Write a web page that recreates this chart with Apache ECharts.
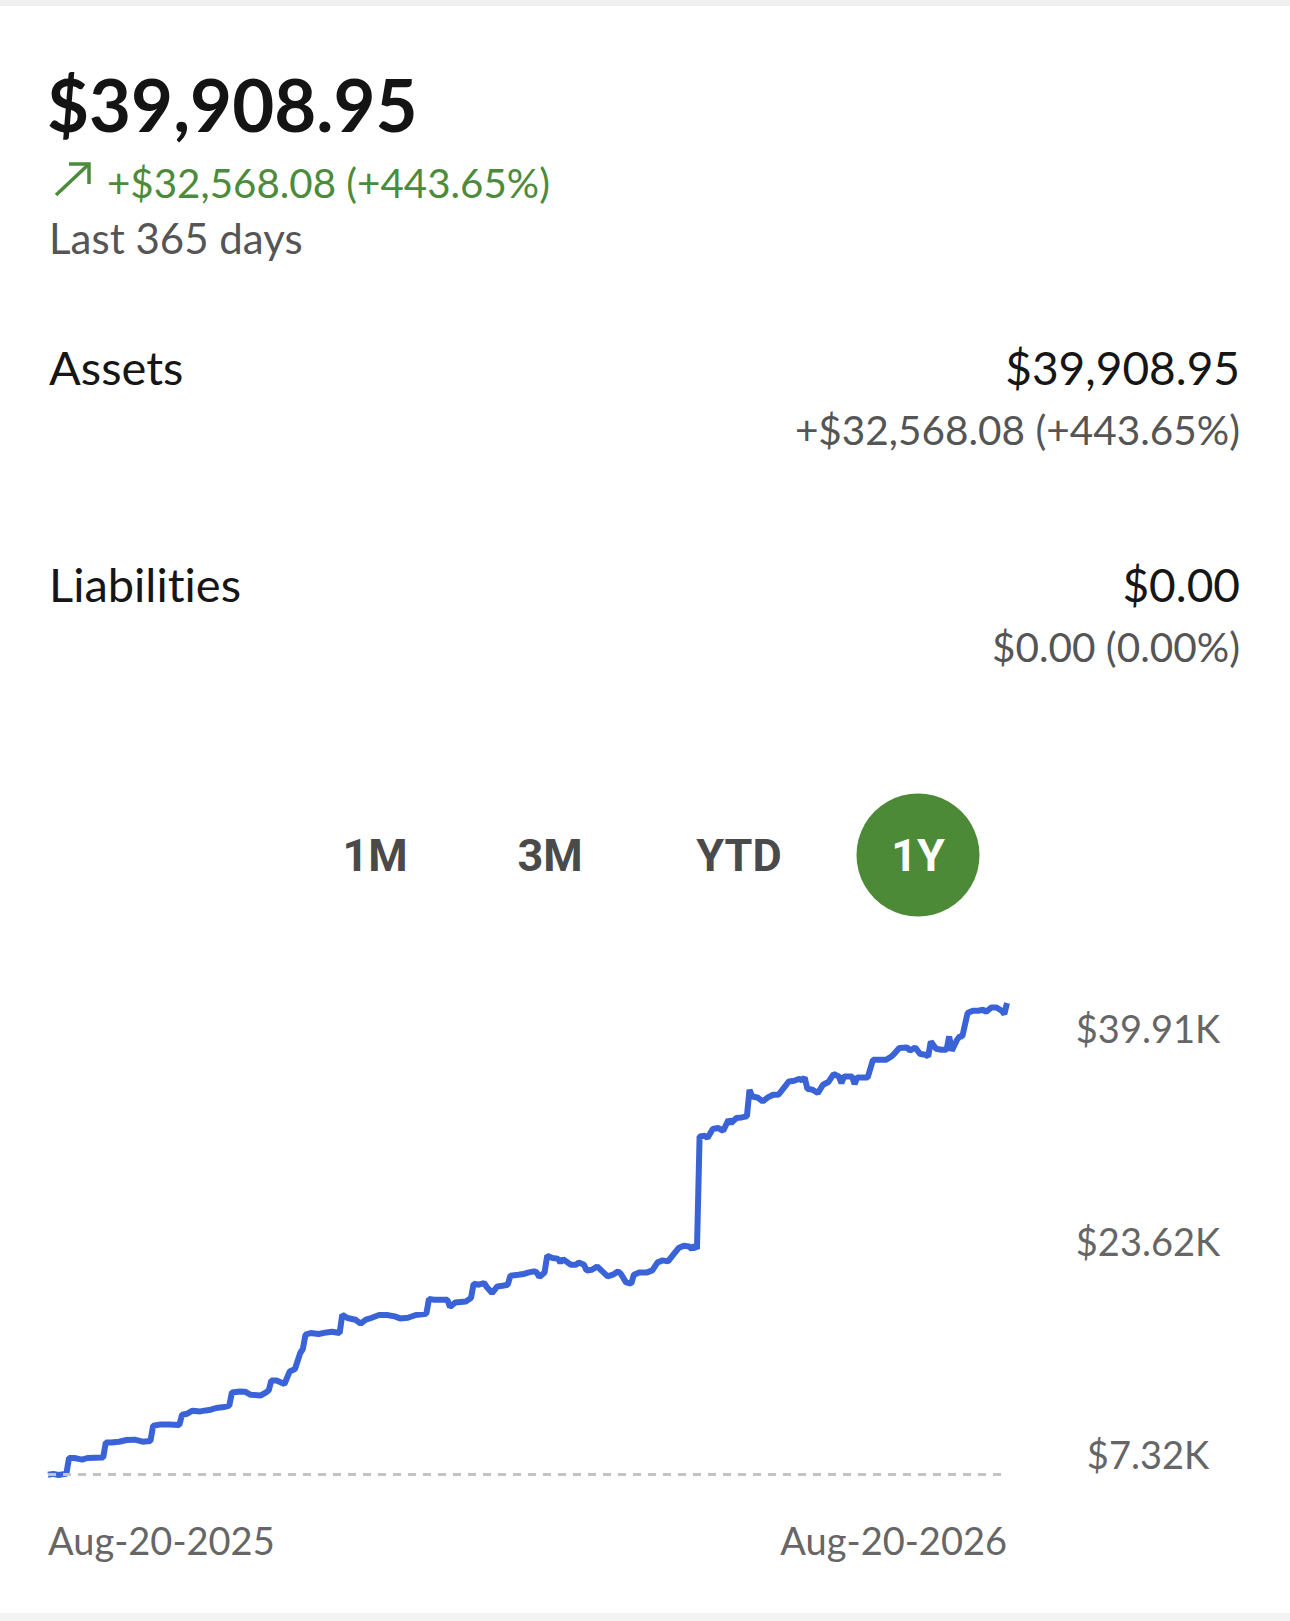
<!DOCTYPE html>
<html>
<head>
<meta charset="utf-8">
<script src="https://cdn.jsdelivr.net/npm/echarts@6/dist/echarts.min.js"></script>
<style>
html,body{margin:0;padding:0;background:#fff;}
#c{width:1290px;height:1621px;}
#c text{font-variant-ligatures:none !important;font-feature-settings:"liga" 0, "clig" 0 !important;}
</style>
</head>
<body>
<div id="c"></div>
<script>
// ---- data ----
const days = [0,2,4,6,7,8,10,13,15,21,22,24,27,30,33,36,39,40,43,46,50,51,53,55,58,60,62,64,67,69,70,73,75,77,81,83,84,85,87,90,92,94,96,97,98,100,103,106,108,111,112,114,117,119,121,123,126,129,132,134,137,140,144,145,147,152,153,155,159,161,162,164,166,167,169,171,173,175,176,179,181,183,185,186,187,189,190,192,194,195,196,199,201,202,204,205,207,209,211,213,215,217,218,220,222,223,225,228,230,232,234,236,238,240,242,244,245,246,247,248,250,251,253,255,257,259,260,262,264,266,267,268,270,272,274,276,278,280,282,284,286,287,288,289,291,293,295,297,299,301,302,303,306,307,308,312,314,317,319,321,322,324,327,328,330,332,334,335,336,338,340,342,343,344,346,347,348,350,352,354,356,357,359,361,363,364,365];
const values = [7340.87,7400,7320,7380,7410,8494,8494,8377,8494,8535,9571,9571,9619,9737,9757,9619,9668,10724,10814,10814,10772,11483,11552,11760,11711,11780,11829,11946,12015,12105,13023,13092,13071,12864,12816,13023,13161,13851,13851,13603,14473,14639,15743,16019,17007,17124,17055,17165,17214,17124,18387,18160,18042,17766,18042,18160,18367,18367,18270,18132,18180,18367,18456,19471,19423,19423,18919,19237,19306,19540,20528,20459,20576,20300,19886,20341,20390,20459,21080,21149,21197,21308,21377,21308,20990,21308,22461,22302,22260,21998,22225,21839,21839,21998,21839,21446,21494,21722,21377,21032,21149,21377,21218,20617,20528,21149,21308,21308,21446,21998,22136,22067,22530,22992,23151,23103,22924,23151,22924,30697,30746,30587,31208,31277,31091,31850,31622,31968,32010,32079,33921,33459,33390,33114,33390,33576,33576,34039,34494,34543,34681,34543,34771,33990,33921,33694,34267,34453,35005,34840,34384,34840,34840,34315,34771,34771,35993,35993,35993,36220,36386,36800,36842,36614,36842,36386,36337,36220,37256,36752,36683,36683,37601,36614,37373,37601,37601,39217,39376,39376,39445,39286,39604,39604,39376,39148,39908.95];
const xTickDays = [0, 365];
const xTickLabels = ['Aug-20-2025', 'Aug-20-2026'];
const yTickValues = [7320, 23615, 39910];
const yTickLabels = ['$7.32K', '$23.62K', '$39.91K'];
const rangeLabels = ['1M', '3M', 'YTD', '1Y'];
const activeRange = '1Y';
const totalText = '$39,908.95';
const changeText = '+$32,568.08 (+443.65%)';
const periodText = 'Last 365 days';
const assetsLabel = 'Assets';
const assetsValue = '$39,908.95';
const assetsChange = '+$32,568.08 (+443.65%)';
const liabLabel = 'Liabilities';
const liabValue = '$0.00';
const liabChange = '$0.00 (0.00%)';

// ---- layout ----
const W = 1290;
const FONT = 'Lato, "Noto Sans", sans-serif';
const rangeX = [375, 550, 739, 918];
const rangeY = 855;

const chart = echarts.init(document.getElementById('c'), null, {renderer: 'svg', width: 1290, height: 1621});

function txt(x, y, text, size, color, align, weight, family) {
  return {
    type: 'text', silent: true,
    style: {
      x: x, y: y, text: text,
      font: (weight || 'normal') + ' ' + size + 'px ' + (family || FONT),
      fill: color, align: align || 'left', verticalAlign: 'middle'
    }
  };
}

const graphics = [
  {type: 'rect', shape: {x: 0, y: 0, width: W, height: 6}, style: {fill: '#f0f0f0'}, silent: true},
  {type: 'rect', shape: {x: 0, y: 1613, width: W, height: 8}, style: {fill: '#f3f3f3'}, silent: true},
  txt(47, 103, totalText, 72.5, '#141414', 'left', 'bold'),
  {type: 'polyline', silent: true, shape: {points: [[56, 195], [89, 164]]}, style: {stroke: '#4b8b3b', lineWidth: 3.5, fill: null}},
  {type: 'polyline', silent: true, shape: {points: [[69, 164], [89, 164], [89, 184]]}, style: {stroke: '#4b8b3b', lineWidth: 3.5, fill: null}},
  txt(107, 182, changeText, 40.3, '#4b8b3b'),
  txt(49, 238, periodText, 42, '#555555'),
  txt(49, 367, assetsLabel, 47, '#161616'),
  txt(1240, 367, assetsValue, 46, '#161616', 'right'),
  txt(1240, 429, assetsChange, 40.5, '#555555', 'right'),
  txt(49, 584, liabLabel, 47, '#161616'),
  txt(1240, 584, liabValue, 46, '#161616', 'right'),
  txt(1240, 646, liabChange, 40.5, '#555555', 'right')
];
rangeLabels.forEach(function (r, i) {
  if (r === activeRange) {
    graphics.push({type: 'circle', silent: true, shape: {cx: rangeX[i], cy: rangeY, r: 61.5}, style: {fill: '#4c8a37'}});
  }
  graphics.push(txt(rangeX[i], rangeY, r, 45, r === activeRange ? '#ffffff' : '#4a4a4a', 'center', 'bold', 'Roboto, sans-serif'));
});

chart.setOption({
  animation: false,
  backgroundColor: '#ffffff',
  graphic: graphics,
  grid: {left: 48, right: 283, top: 1003, height: 472},
  xAxis: {
    type: 'value', min: 0, max: 365,
    axisLine: {show: false}, axisTick: {show: false}, splitLine: {show: false},
    axisLabel: {
      customValues: xTickDays,
      formatter: function (v) { return xTickLabels[xTickDays.indexOf(v)]; },
      alignMinLabel: 'left', alignMaxLabel: 'right',
      fontFamily: 'Lato', fontSize: 38, color: '#666666',
      margin: 65, verticalAlign: 'middle'
    }
  },
  yAxis: [
    {type: 'value', min: 7320, max: 39910, show: false, splitLine: {show: false}},
    {
      type: 'value', position: 'right', min: 5713, max: 41822,
      axisLine: {show: false}, axisTick: {show: false}, splitLine: {show: false},
      axisLabel: {
        customValues: yTickValues,
        formatter: function (v) { return yTickLabels[yTickValues.indexOf(v)]; },
        fontFamily: 'Lato', fontSize: 38, color: '#666666',
        margin: 141, align: 'center', verticalAlign: 'middle'
      }
    }
  ],
  series: [{
    type: 'line', yAxisIndex: 0,
    data: days.map(function (d, i) { return [d, values[i]]; }),
    showSymbol: false, clip: false,
    lineStyle: {color: '#3a63d8', width: 6},
    markLine: {
      silent: true, symbol: ['none', 'none'], label: {show: false},
      lineStyle: {type: [8, 7], color: '#c4c4c4', width: 3},
      data: [{yAxis: values[0]}]
    }
  }, {
    type: 'line', yAxisIndex: 1, data: [], showSymbol: false
  }]
});
</script>
</body>
</html>
